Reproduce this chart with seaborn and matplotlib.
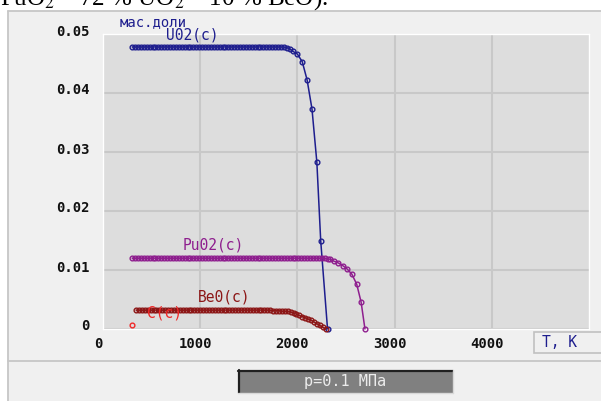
import numpy as np
import pandas as pd
import matplotlib
matplotlib.use("Agg")
import matplotlib.pyplot as plt
import seaborn as sns
from matplotlib.patches import Rectangle
from matplotlib.lines import Line2D
import matplotlib.transforms as mtransforms

# ---------------- data ----------------
T_UO2 = [300, 330, 360, 390, 420, 450, 480, 510, 540, 570,
         600, 630, 660, 690, 720, 750, 780, 810, 840, 870,
         900, 930, 960, 990, 1020, 1050, 1080, 1110, 1140, 1170,
         1200, 1230, 1260, 1290, 1320, 1350, 1380, 1410, 1440, 1470,
         1500, 1530, 1560, 1590, 1620, 1650, 1680, 1710, 1740, 1770,
         1800, 1830, 1860, 1890, 1920, 1950, 2000, 2050, 2100, 2150,
         2200, 2240, 2310]
V_UO2 = [0.0478, 0.0478, 0.0478, 0.0478, 0.0478, 0.0478, 0.0478, 0.0478, 0.0478, 0.0478,
         0.0478, 0.0478, 0.0478, 0.0478, 0.0478, 0.0478, 0.0478, 0.0478, 0.0478, 0.0478,
         0.0478, 0.0478, 0.0478, 0.0478, 0.0478, 0.0478, 0.0478, 0.0478, 0.0478, 0.0478,
         0.0478, 0.0478, 0.0478, 0.0478, 0.0478, 0.0478, 0.0478, 0.0478, 0.0478, 0.0478,
         0.0478, 0.0478, 0.0478, 0.0478, 0.0478, 0.0478, 0.0478, 0.0478, 0.0478, 0.0478,
         0.0478, 0.0478, 0.0478, 0.0477, 0.0475, 0.0471, 0.0466, 0.0453, 0.0422, 0.0373,
         0.0283, 0.0149, 0.0]

T_PuO2 = [300, 330, 360, 390, 420, 450, 480, 510, 540, 570,
          600, 630, 660, 690, 720, 750, 780, 810, 840, 870,
          900, 930, 960, 990, 1020, 1050, 1080, 1110, 1140, 1170,
          1200, 1230, 1260, 1290, 1320, 1350, 1380, 1410, 1440, 1470,
          1500, 1530, 1560, 1590, 1620, 1650, 1680, 1710, 1740, 1770,
          1800, 1830, 1860, 1890, 1920, 1950, 1980, 2010, 2040, 2070,
          2100, 2130, 2160, 2190, 2220, 2250, 2280, 2310, 2340, 2375,
          2420, 2470, 2510, 2560, 2610, 2655, 2695]
V_PuO2 = [0.0120, 0.0120, 0.0120, 0.0120, 0.0120, 0.0120, 0.0120, 0.0120, 0.0120, 0.0120,
          0.0120, 0.0120, 0.0120, 0.0120, 0.0120, 0.0120, 0.0120, 0.0120, 0.0120, 0.0120,
          0.0120, 0.0120, 0.0120, 0.0120, 0.0120, 0.0120, 0.0120, 0.0120, 0.0120, 0.0120,
          0.0120, 0.0120, 0.0120, 0.0120, 0.0120, 0.0120, 0.0120, 0.0120, 0.0120, 0.0120,
          0.0120, 0.0120, 0.0120, 0.0120, 0.0120, 0.0120, 0.0120, 0.0120, 0.0120, 0.0120,
          0.0120, 0.0120, 0.0120, 0.0120, 0.0120, 0.0120, 0.0120, 0.0120, 0.0120, 0.0120,
          0.0120, 0.0120, 0.0120, 0.0120, 0.0120, 0.0120, 0.0120, 0.0119, 0.0118, 0.0115,
          0.0112, 0.0107, 0.0102, 0.0093, 0.0076, 0.0046, 0.0]

T_BeO = [340, 370, 400, 430, 460, 490, 520, 550, 580, 610,
         640, 670, 700, 730, 760, 790, 820, 850, 880, 910,
         940, 970, 1000, 1030, 1060, 1090, 1120, 1150, 1180, 1210,
         1240, 1270, 1300, 1330, 1360, 1390, 1420, 1450, 1480, 1510,
         1540, 1570, 1600, 1630, 1660, 1690, 1720, 1750, 1780, 1810,
         1840, 1870, 1900, 1930, 1960, 1990, 2020, 2050, 2080, 2110,
         2140, 2170, 2200, 2230, 2260, 2290]
V_BeO = [0.0032, 0.0032, 0.0032, 0.0032, 0.0032, 0.0032, 0.0032, 0.0032, 0.0032, 0.0032,
         0.0032, 0.0032, 0.0032, 0.0032, 0.0032, 0.0032, 0.0032, 0.0032, 0.0032, 0.0032,
         0.0032, 0.0032, 0.0032, 0.0032, 0.0032, 0.0032, 0.0032, 0.0032, 0.0032, 0.0032,
         0.0032, 0.0032, 0.0032, 0.0032, 0.0032, 0.0032, 0.0032, 0.0032, 0.0032, 0.0032,
         0.0032, 0.0032, 0.0032, 0.0032, 0.0032, 0.0032, 0.0032, 0.0031, 0.0031, 0.0031,
         0.0030, 0.0030, 0.0030, 0.0029, 0.0027, 0.0025, 0.0023, 0.0021, 0.0019, 0.0017,
         0.0015, 0.0012, 0.0009, 0.0006, 0.0003, 0.0]

T_C = [300]
V_C = [0.0007]

series_names = ["U02(c)", "Pu02(c)", "Be0(c)", "C(c)"]
x_ticks = [0, 1000, 2000, 3000, 4000]
x_tick_labels = ["0", "1000", "2000", "3000", "4000"]
y_ticks = [0, 0.01, 0.02, 0.03, 0.04, 0.05]
y_tick_labels = ["0", "0.01", "0.02", "0.03", "0.04", "0.05"]

# ---------------- style ----------------
sns.set_theme(style="white")
plt.rcParams['font.family'] = ['DejaVu Sans Mono', 'DejaVu Sans']
plt.rcParams['mathtext.fontset'] = 'stix'

W, H = 601, 401
fig = plt.figure(figsize=(6.01, 4.01), dpi=100, facecolor='white')


def fx(x):
    return x / W


def fy(y):
    return 1 - y / H


# panel background (drawn below the axes)
fig.patches.append(Rectangle((fx(8), 0), 1 - fx(8), fy(11), transform=fig.transFigure,
                             facecolor='#f0f0f0', edgecolor='none', zorder=-5))
fig.add_artist(Line2D([fx(8), fx(8)], [0, fy(11)], color='#c6c6c6', lw=1.3, zorder=-4))
fig.add_artist(Line2D([fx(8), 1], [fy(11), fy(11)], color='#c6c6c6', lw=1.3, zorder=-4))
fig.add_artist(Line2D([fx(8), 1], [fy(361), fy(361)], color='#c6c6c6', lw=1.3, zorder=-4))

# clipped caption at the very top (cut off in the reference as well)
fig.text(fx(0), fy(5), r"PuO$_2$ – 72 % UO$_2$ – 10 % BeO).", fontsize=18,
         family='Liberation Serif', va='baseline', ha='left', color='black')

ax = fig.add_axes([fx(103), fy(329), fx(589) - fx(103), fy(34) - fy(329)])
ax.set_facecolor('#dddddd')

colors = ['#1e1e8e', '#8e1e8e', '#8c1616', '#f02828']
datasets = [(T_UO2, V_UO2), (T_PuO2, V_PuO2), (T_BeO, V_BeO), (T_C, V_C)]
for name, (tt, vv), c in zip(series_names, datasets, colors):
    df = pd.DataFrame({'T': tt, 'v': vv})
    sns.lineplot(data=df, x='T', y='v', ax=ax, color=c, lw=1.1, marker='o',
                 markersize=3.4, markerfacecolor='none', markeredgecolor=c,
                 markeredgewidth=1.0, estimator=None, sort=False, zorder=3,
                 clip_on=False)

ax.set_xlim(0, 5000)
ax.set_ylim(0, 0.05)
ax.set_xticks(x_ticks)
ax.set_xticklabels(x_tick_labels, fontsize=10, color='#111111', fontweight='bold')
ax.set_yticks(y_ticks)
ax.set_yticklabels(y_tick_labels, fontsize=10, color='#111111', fontweight='bold')
ax.set_xlabel('')
ax.set_ylabel('')
ax.grid(True, color='#c8c8c8', lw=1.5)
ax.set_axisbelow(True)
ax.tick_params(length=0, axis='y', pad=9.5)
ax.tick_params(length=0, axis='x', pad=6)
for s in ax.spines.values():
    s.set_color('white')
    s.set_linewidth(1.0)

offx = mtransforms.ScaledTranslation(-5 / 100, 0, fig.dpi_scale_trans)
for lbl in ax.get_xticklabels():
    lbl.set_transform(lbl.get_transform() + offx)
offy = mtransforms.ScaledTranslation(0, 4 / 100, fig.dpi_scale_trans)
for lbl in ax.get_yticklabels():
    lbl.set_transform(lbl.get_transform() + offy)

# series labels
lab_pos = [(192, 35), (213, 245), (224, 297), (164, 313)]
for name, (px, py), c in zip(series_names, lab_pos, colors):
    fig.text(fx(px), fy(py), name, color=c, fontsize=10.5, ha='center', va='center')
fig.text(fx(153), fy(22), "мас.доли", color=colors[0], fontsize=10, ha='center', va='center')

# T, K box
fig.patches.append(Rectangle((fx(534), fy(353)), fx(80), fy(332) - fy(353),
                             transform=fig.transFigure, facecolor='#f0f0f0',
                             edgecolor='#c0c0c0', lw=1.2, zorder=1))
fig.text(fx(542), fy(342.5), "T, K", color=colors[0], fontsize=10.5, ha='left', va='center')

# pressure bar
fig.patches.append(Rectangle((fx(238), fy(393)), fx(453) - fx(238), fy(370) - fy(393),
                             transform=fig.transFigure, facecolor='#808080',
                             edgecolor='none', zorder=1))
fig.add_artist(Line2D([fx(238), fx(453)], [fy(370.5), fy(370.5)], color='#202020', lw=1.6))
fig.add_artist(Line2D([fx(238.5), fx(238.5)], [fy(370), fy(393)], color='#202020', lw=1.6))
fig.add_artist(Line2D([fx(238), fx(453)], [fy(393), fy(393)], color='#d8d8d8', lw=1.0))
fig.add_artist(Line2D([fx(453), fx(453)], [fy(370), fy(393)], color='#d8d8d8', lw=1.0))
fig.text(fx(345), fy(381.5), "p=0.1 МПа", color='#ececec', fontsize=11, ha='center', va='center')

fig.savefig('out.png', dpi=100, facecolor=fig.get_facecolor())
